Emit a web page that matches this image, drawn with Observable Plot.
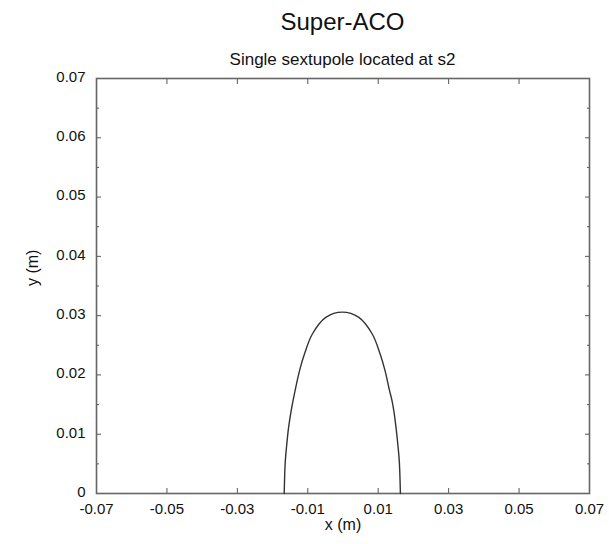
<!DOCTYPE html>
<html><head><meta charset="utf-8">
<script src="https://cdn.jsdelivr.net/npm/d3@7"></script>
<script src="https://cdn.jsdelivr.net/npm/@observablehq/plot@0.6"></script>
<style>
body{margin:0;background:#fff;font-family:"Liberation Sans",Arial,sans-serif;color:#111;}
#wrap{width:609px;height:544px;overflow:hidden;}
#title{margin-left:96px;width:493px;text-align:center;height:46px;line-height:44px;font-size:24px;}
#subtitle{margin-left:96px;width:493px;text-align:center;height:24px;line-height:20px;font-size:17px;box-sizing:border-box;padding-top:4px;}
</style></head><body>
<div id="wrap">
<div id="title">Super-ACO</div>
<div id="subtitle">Single sextupole located at s2</div>
<div id="chart"></div>
</div>
<script>
const apertureX = [-0.0167, -0.0164, -0.0160, -0.0155, -0.0148, -0.0139, -0.0123, -0.0109, -0.0087, -0.0049, -0.0002, 0.0045, 0.0083, 0.0105, 0.0119, 0.0132, 0.0139, 0.0145, 0.0151, 0.0156, 0.0160, 0.0163];
const apertureY = [0, 0.0053, 0.0081, 0.0109, 0.0137, 0.0165, 0.0208, 0.0236, 0.0269, 0.0297, 0.0306, 0.0297, 0.0269, 0.0236, 0.0208, 0.0174, 0.0157, 0.0137, 0.0109, 0.0081, 0.0053, 0];
const xTicks = [-0.07, -0.05, -0.03, -0.01, 0.01, 0.03, 0.05, 0.07];
const yTicks = [0, 0.01, 0.02, 0.03, 0.04, 0.05, 0.06, 0.07];
const yMinorTicks = [0.005, 0.015, 0.025, 0.035, 0.045, 0.055, 0.065];
const xLabel = "x (m)";
const yLabel = "y (m)";

const data = apertureX.map((x, i) => ({x, y: apertureY[i]}));
const fmt = d => d === 0 ? "0" : d.toFixed(2);
const none = () => "";
const tickColor = "#555";

const chart = Plot.plot({
  width: 609,
  height: 474,
  marginTop: 8,
  marginBottom: 51,
  marginLeft: 96,
  marginRight: 20,
  style: {fontFamily: "Liberation Sans, Arial, sans-serif", fontSize: "15px", color: "#111", background: "#fff", overflow: "visible"},
  x: {domain: [-0.07, 0.07]},
  y: {domain: [0, 0.07]},
  marks: [
    Plot.axisX(xTicks, {anchor: "bottom", tickSize: 0, tickPadding: 10, tickFormat: fmt, label: null, fontSize: 15}),
    Plot.axisY(yTicks, {anchor: "left", tickSize: 0, tickPadding: 11, tickFormat: fmt, label: null, fontSize: 15, dy: -1.5}),
    Plot.axisX(xTicks, {anchor: "bottom", tickSize: -5, tickFormat: none, label: null, stroke: tickColor}),
    Plot.axisX(xTicks, {anchor: "top", tickSize: -5, tickFormat: none, label: null, stroke: tickColor}),
    Plot.axisY(yTicks, {anchor: "left", tickSize: -5, tickFormat: none, label: null, stroke: tickColor}),
    Plot.axisY(yTicks, {anchor: "right", tickSize: -5, tickFormat: none, label: null, stroke: tickColor}),
    Plot.axisY(yMinorTicks, {anchor: "left", tickSize: -3, tickFormat: none, label: null, stroke: tickColor}),
    Plot.axisY(yMinorTicks, {anchor: "right", tickSize: -3, tickFormat: none, label: null, stroke: tickColor}),
    Plot.frame({stroke: "#666", strokeWidth: 1.6}),
    Plot.line(data, {x: "x", y: "y", stroke: "#333", strokeWidth: 1.4, curve: "catmull-rom"}),
    Plot.text([xLabel], {frameAnchor: "bottom", dy: 36, text: d => d, fontSize: 16, fill: "#111"}),
    Plot.text([yLabel], {frameAnchor: "left", dx: -64, rotate: -90, text: d => d, fontSize: 16, fill: "#111"})
  ]
});
document.getElementById("chart").appendChild(chart);
</script>
</body></html>
